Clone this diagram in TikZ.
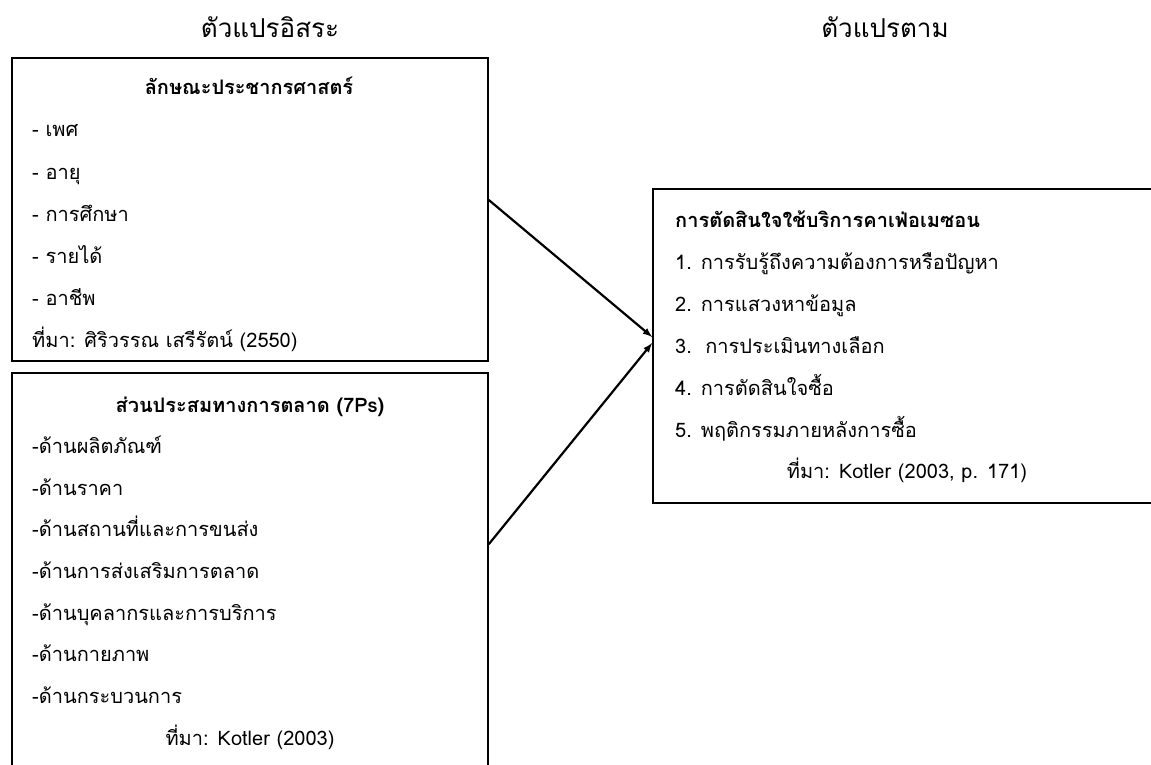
\documentclass[tikz,border=0pt]{standalone}
\usepackage{fontspec}
\setmainfont[Script=Thai]{Loma}
\tikzset{box/.style={draw, line width=1.6pt, inner sep=0pt},
  txt/.style={anchor=base west, inner sep=0pt},
  mid/.style={anchor=base, inner sep=0pt}}
\begin{document}
\begin{tikzpicture}[>=latex, x=1pt, y=-1pt, font=\fontsize{20}{24}\selectfont]
\useasboundingbox (0,0) rectangle (1151,765);
\clip (0,0) rectangle (1151,765);
\node (indep) at (270,38)[mid, font=\fontsize{26}{30}\selectfont]{ตัวแปรอิสระ};
\node (dep) at (885,38)[mid, font=\fontsize{26}{30}\selectfont]{ตัวแปรตาม};
% boxes
\node (demo) at (250,209.5)[box, minimum width=476pt, minimum height=303pt]{};
\node (mix) at (250,593)[box, minimum width=476pt, minimum height=440pt]{};
\node (dec) at (916.5,346)[box, minimum width=527pt, minimum height=314pt]{};
% demographic
\node (demot) at (249,95)[mid, font=\fontsize{20}{24}\selectfont\bfseries]{ลักษณะประชากรศาสตร์};
\foreach \t [count=\i] in {- เพศ, - อายุ, - การศึกษา, - รายได้, - อาชีพ, ที่มา: ศิริวรรณ เสรีรัตน์ (2550)}
  \node (demo\i) at (32,{95+42*\i})[txt]{\t};
% marketing mix
\node (mixt) at (250,412)[mid, font=\fontsize{20}{24}\selectfont\bfseries]{ส่วนประสมทางการตลาด (7Ps)};
\foreach \t [count=\i] in {-ด้านผลิตภัณฑ์, -ด้านราคา, -ด้านสถานที่และการขนส่ง, -ด้านการส่งเสริมการตลาด, -ด้านบุคลากรและการบริการ, -ด้านกายภาพ, -ด้านกระบวนการ}
  \node (mix\i) at (32,{412+41.6*\i})[txt]{\t};
\node (mixs) at (250,745)[mid]{ที่มา: Kotler (2003)};
% decision
\node (dect) at (675,227)[txt, font=\fontsize{20}{24}\selectfont\bfseries]{การตัดสินใจใช้บริการคาเฟ่อเมซอน};
\foreach \t [count=\i] in {1. การรับรู้ถึงความต้องการหรือปัญหา, 2. การแสวงหาข้อมูล, 3.\ \ การประเมินทางเลือก, 4. การตัดสินใจซื้อ, 5. พฤติกรรมภายหลังการซื้อ}
  \node (dec\i) at (675,{228+41.8*\i})[txt]{\t};
\node (decs) at (907,478)[mid]{ที่มา: Kotler (2003, p. 171)};
\draw[->, line width=2.2pt] ([yshift=9.5pt]demo.east) -- ([yshift=9pt]dec.west);
\draw[->, line width=2.2pt] ([yshift=-172pt]mix.north east) -- ([yshift=3pt]dec.west);
    \end{tikzpicture}
\end{document}
